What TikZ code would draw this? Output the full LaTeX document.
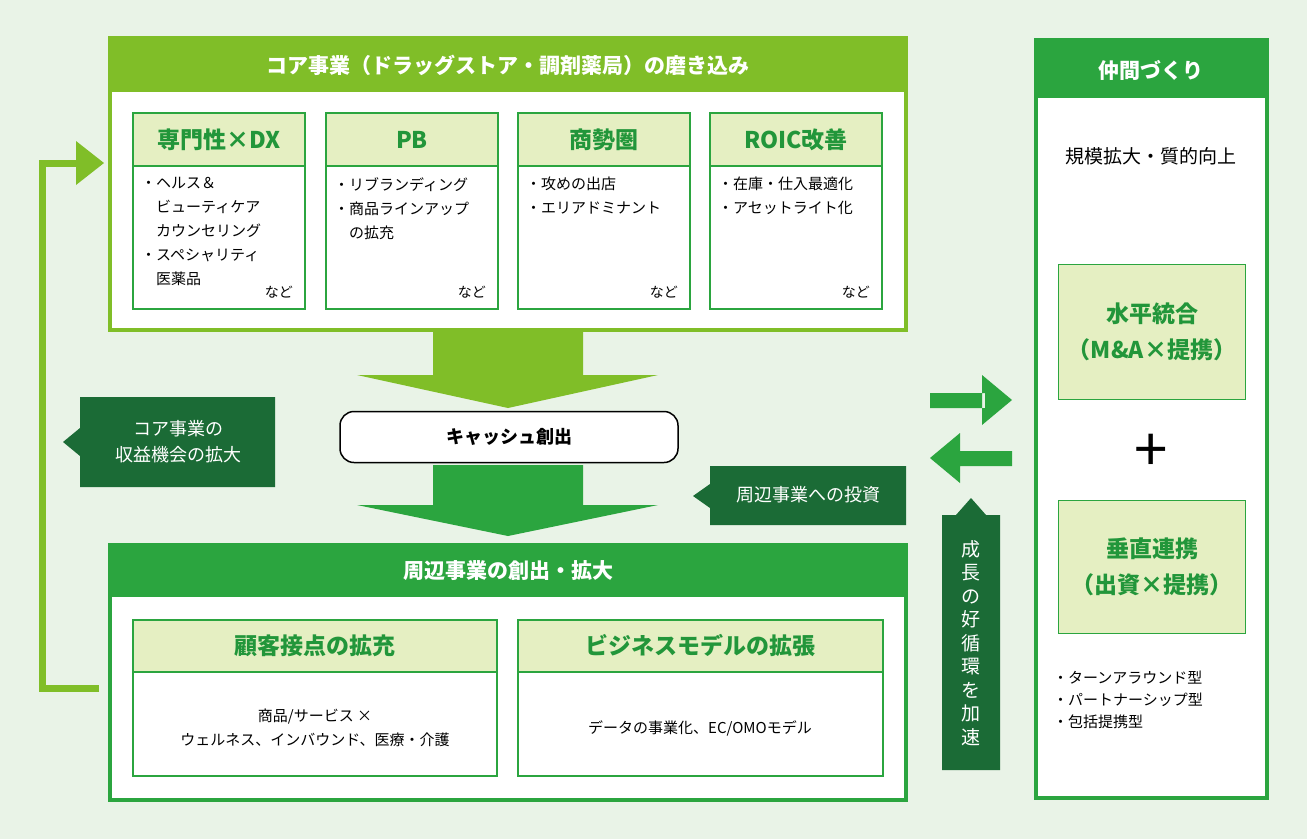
\documentclass[tikz,border=0pt]{standalone}
\usepackage{fontspec}
\setmainfont{Noto Sans CJK JP}
\usetikzlibrary{shapes.callouts}
\definecolor{bg}{HTML}{E9F3E7}
\definecolor{lime}{HTML}{80BE28}
\definecolor{grn}{HTML}{2BA53F}
\definecolor{dgrn}{HTML}{1B6B36}
\definecolor{pale}{HTML}{E5EFC2}
\definecolor{tgrn}{HTML}{22963A}
\tikzset{
 sub/.style={draw=grn,line width=1.2pt,fill=white},
 subhead/.style={draw=grn,line width=1.2pt,fill=pale},
 subtitle/.style={text=tgrn,font=\fontsize{23}{26}\selectfont\bfseries},
 body/.style={font=\fontsize{15}{24}\selectfont,align=left,anchor=north west,inner sep=0},
 nado/.style={font=\fontsize{14}{16}\selectfont,anchor=south east,inner sep=0},
 dbox/.style={fill=dgrn,text=white,font=\fontsize{18}{25}\selectfont}
}
\begin{document}
\begin{tikzpicture}[x=1pt,y=-1pt]
\fill[bg] (0,0) rectangle (1307,839);
% top box
\draw[lime,line width=4pt,fill=white] (110,38) rectangle (906,330);
\fill[lime] (110,38) rectangle (906,92);
\node[text=white,font=\fontsize{21}{24}\selectfont\bfseries] (toph) at (508,65) {コア事業（ドラッグストア・調剤薬局）の磨き込み};
\foreach \x/\t [count=\i] in {133/専門性×DX,326/PB,518/商勢圏,710/ROIC改善}{
 \draw[sub] (\x,113) rectangle ++(172,196);
 \draw[subhead] (\x,113) rectangle ++(172,53);
 \node[subtitle] (s\i) at (\x+86,140) {\t};
 \node[nado] at (\x+160,298) {など};
}
\node[body] (b1) at (141,177) {・ヘルス＆\\\hspace{1em}ビューティケア\\\hspace{1em}カウンセリング\\・スペシャリティ\\\hspace{1em}医薬品};
\node[body] (b2) at (334,177) {・リブランディング\\・商品ラインアップ\\\hspace{1em}の拡充};
\node[body] (b3) at (526,177) {・攻めの出店\\・エリアドミナント};
\node[body] (b4) at (718,177) {・在庫・仕入最適化\\・アセットライト化};
% arrows down
\fill[lime] (433,330) rectangle (583,375) (357,375) -- (658,375) -- (508,408) -- cycle;
\node[draw=black,line width=1.5pt,rounded corners=14pt,fill=white,minimum width=338pt,minimum height=51pt,font=\fontsize{18}{20}\selectfont\bfseries] (cash) at (509,437) {キャッシュ創出};
\fill[grn] (433,465) rectangle (583,505) (357,505) -- (658,505) -- (508,536) -- cycle;
% bottom box
\draw[grn,line width=4pt,fill=white] (110,545) rectangle (906,800);
\fill[grn] (110,545) rectangle (906,597);
\node[text=white,font=\fontsize{21}{24}\selectfont\bfseries] (both) at (508,571) {周辺事業の創出・拡大};
\draw[sub] (133,620) rectangle (497,776); \draw[subhead] (133,620) rectangle (497,672);
\draw[sub] (518,620) rectangle (883,776); \draw[subhead] (518,620) rectangle (883,672);
\node[subtitle] (c1) at (315,646) {顧客接点の拡充};
\node[subtitle] (c2) at (700,646) {ビジネスモデルの拡張};
\node[font=\fontsize{15}{24}\selectfont,align=center] (d1) at (315,728) {商品/サービス ×\\ウェルネス、インバウンド、医療・介護};
\node[font=\fontsize{15}{24}\selectfont] (d2) at (700,728) {データの事業化、EC/OMOモデル};
% loop arrow
\coordinate (la) at (99,688);
\coordinate (lb) at (104,163);
\draw[lime,line width=7pt] (la) -- (42,688) -- (42,163) -- (78,163);
\fill[lime] (76,141) -- (104,163) -- (76,185) -- cycle;
% callouts
\fill[dgrn] (80,397) rectangle (275,487) (80,428) -- (63,442) -- (80,456) -- cycle;
\node[text=white,font=\fontsize{18}{26}\selectfont,align=center] (cl1) at (178,442) {コア事業の\\収益機会の拡大};
\fill[dgrn] (710,466) rectangle (906,525) (710,484) -- (693,496) -- (710,508) -- cycle;
\node[text=white,font=\fontsize{18}{20}\selectfont] (cl2) at (808,495) {周辺事業への投資};
\fill[dgrn] (942,515) rectangle (1000,770) (956,515) -- (971,498) -- (986,515) -- cycle;
\node[text=white,font=\fontsize{19}{23.5}\selectfont,align=center] (cl3) at (971,643) {成\\長\\の\\好\\循\\環\\を\\加\\速};
% right box
\draw[grn,line width=4pt,fill=white] (1036,40) rectangle (1267,798);
\fill[grn] (1036,40) rectangle (1267,98);
\node[text=white,font=\fontsize{21}{24}\selectfont\bfseries] (rh) at (1151,70) {仲間づくり};
\node[font=\fontsize{19}{22}\selectfont] (rt) at (1151,156) {規模拡大・質的向上};
\node[draw=grn,line width=1.2pt,fill=pale,minimum width=187pt,minimum height=135pt,align=center,text=tgrn,font=\fontsize{23}{36}\selectfont\bfseries] (h) at (1152,332) {水平統合\\（M\&A×提携）};
\node[font=\fontsize{60}{60}\selectfont] (plus) at (1151,453) {+};
\node[draw=grn,line width=1.2pt,fill=pale,minimum width=187pt,minimum height=133pt,align=center,text=tgrn,font=\fontsize{23}{36}\selectfont\bfseries] (v) at (1152,567) {垂直連携\\（出資×提携）};
\node[body,font=\fontsize{15}{22}\selectfont] (rb) at (1053,671) {・ターンアラウンド型\\・パートナーシップ型\\・包括提携型};
% exchange arrows
\fill[grn] (930,393) rectangle (985,408) (982,375) -- (1012,400) -- (982,425) -- cycle;
\fill[grn] (957,451) rectangle (1012,466) (960,433) -- (930,458) -- (960,483) -- cycle;
\end{tikzpicture}
\end{document}
